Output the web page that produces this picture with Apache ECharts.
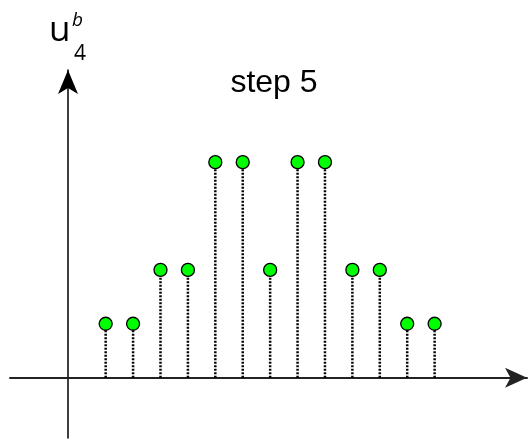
<!DOCTYPE html>
<html lang="en">

<head>
    <meta charset="UTF-8">
    <title>step 5</title>
    <script src="https://cdn.jsdelivr.net/npm/echarts@6/dist/echarts.min.js"></script>
    <style>
        html, body { margin: 0; padding: 0; background: #fff; }
    </style>
</head>

<body>
    <div id="main" style="width: 528px; height: 441px;"></div>

    <script>
        // sample positions and their values
        var positions = [1, 2, 3, 4, 5, 6, 7, 8, 9, 10, 11, 12, 13];
        var values = [1, 1, 2, 2, 4, 4, 2, 4, 4, 2, 2, 1, 1];
        var titleText = 'step 5';

        var chartDom = document.getElementById('main');
        var myChart = echarts.init(chartDom);

        var points = [];
        for (var i = 0; i < positions.length; i++) {
            points.push([positions[i], values[i]]);
        }

        var option = {
            animation: false,
            grid: { left: 10, right: 1, top: 70, bottom: 3 },
            xAxis: {
                type: 'value',
                min: -2.49,
                max: 16.37,
                axisLine: {
                    onZero: true,
                    symbol: ['none', 'arrow'],
                    symbolSize: [15, 22],
                    lineStyle: { color: '#222', width: 2 }
                },
                axisTick: { show: false },
                axisLabel: { show: false },
                splitLine: { show: false }
            },
            yAxis: {
                type: 'value',
                min: -1.12,
                max: 5.71,
                position: 'left',
                offset: -58,
                axisLine: {
                    show: true,
                    onZero: false,
                    symbol: ['none', 'arrow'],
                    symbolSize: [15, 24],
                    lineStyle: { color: '#000', width: 1.5 }
                },
                axisTick: { show: false },
                axisLabel: { show: false },
                splitLine: { show: false }
            },
            graphic: [
                {
                    type: 'text', z: 10,
                    style: { text: titleText, x: 274, y: 83, textAlign: 'center', textVerticalAlign: 'middle',
                        font: '32px "Liberation Sans", Arial, sans-serif', fill: '#000' }
                },
                {
                    type: 'text', z: 10,
                    style: { text: 'u', x: 49, y: 31, textVerticalAlign: 'middle',
                        font: '35px "Open Sans", sans-serif', fill: '#000' }
                },
                {
                    type: 'text', z: 10,
                    style: { text: 'b', x: 72, y: 21, textVerticalAlign: 'middle',
                        font: 'italic 19px "Open Sans", sans-serif', fill: '#000' }
                },
                {
                    type: 'text', z: 10,
                    style: { text: '4', x: 74, y: 54, textVerticalAlign: 'middle',
                        font: '21px "Open Sans", sans-serif', fill: '#000' }
                }
            ],
            series: [
                {
                    type: 'custom',
                    renderItem: function (params, api) {
                        var top = api.coord([api.value(0), api.value(1)]);
                        var base = api.coord([api.value(0), 0]);
                        return {
                            type: 'line',
                            shape: { x1: base[0], y1: base[1], x2: top[0], y2: top[1] },
                            style: { stroke: '#000', lineWidth: 2.5, lineDash: [2, 1.5] }
                        };
                    },
                    data: points,
                    z: 2
                },
                {
                    type: 'scatter',
                    symbol: 'circle',
                    symbolSize: 13,
                    itemStyle: { color: '#00ff00', borderColor: '#000', borderWidth: 1.3, opacity: 1 },
                    data: points,
                    z: 5
                }
            ]
        };

        option && myChart.setOption(option);
    </script>

</body>

</html>
